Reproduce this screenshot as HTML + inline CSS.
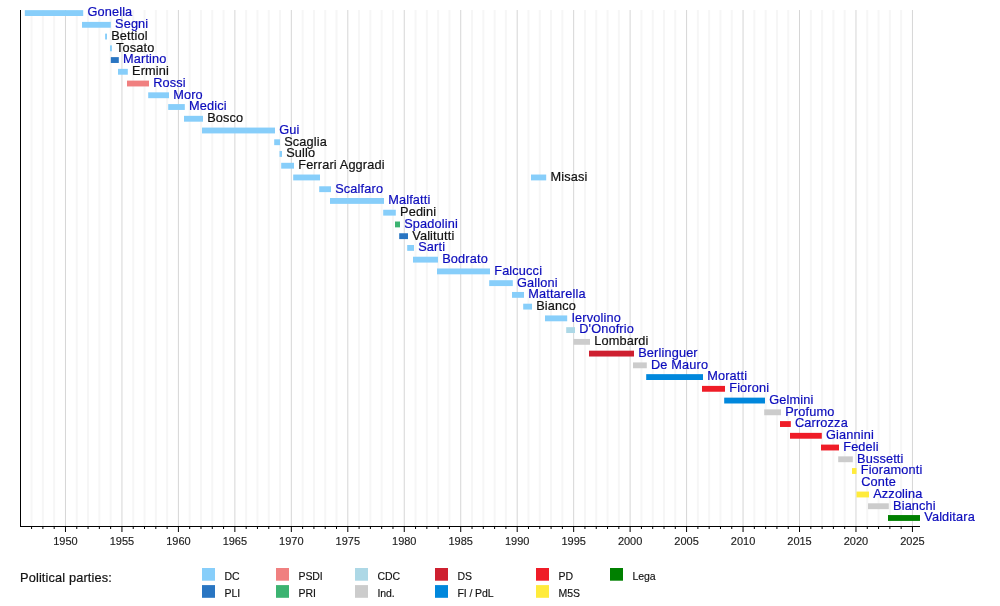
<!DOCTYPE html>
<html><head><meta charset="utf-8"><style>
html,body{margin:0;padding:0;background:#fff;}
svg{display:block;will-change:transform;filter:blur(0.25px);font-family:"Liberation Sans",sans-serif;}
.lb{font-size:12.75px;letter-spacing:0.15px;fill:#0c0cbc;stroke:#0c0cbc;stroke-width:0.2px;}
.lk{font-size:12.75px;letter-spacing:0.15px;fill:#111;stroke:#111;stroke-width:0.2px;}
.yr{font-size:11px;letter-spacing:0px;fill:#222;stroke:#222;stroke-width:0.15px;text-anchor:middle;}
.lg{font-size:10.5px;letter-spacing:-0.1px;fill:#111;stroke:#111;stroke-width:0.15px;}
</style></head><body>
<svg width="1000" height="606" viewBox="0 0 1000 606">
<rect width="1000" height="606" fill="#fff"/>
<line x1="31.59" y1="10" x2="31.59" y2="526" stroke="#f6f6f6" stroke-width="2"/>
<line x1="42.89" y1="10" x2="42.89" y2="526" stroke="#f6f6f6" stroke-width="2"/>
<line x1="54.18" y1="10" x2="54.18" y2="526" stroke="#f6f6f6" stroke-width="2"/>
<line x1="65.47" y1="10" x2="65.47" y2="526" stroke="#d6d6d6" stroke-width="1"/>
<line x1="76.77" y1="10" x2="76.77" y2="526" stroke="#f6f6f6" stroke-width="2"/>
<line x1="88.06" y1="10" x2="88.06" y2="526" stroke="#f6f6f6" stroke-width="2"/>
<line x1="99.35" y1="10" x2="99.35" y2="526" stroke="#f6f6f6" stroke-width="2"/>
<line x1="110.64" y1="10" x2="110.64" y2="526" stroke="#f6f6f6" stroke-width="2"/>
<line x1="121.94" y1="10" x2="121.94" y2="526" stroke="#d6d6d6" stroke-width="1"/>
<line x1="133.23" y1="10" x2="133.23" y2="526" stroke="#f6f6f6" stroke-width="2"/>
<line x1="144.52" y1="10" x2="144.52" y2="526" stroke="#f6f6f6" stroke-width="2"/>
<line x1="155.82" y1="10" x2="155.82" y2="526" stroke="#f6f6f6" stroke-width="2"/>
<line x1="167.11" y1="10" x2="167.11" y2="526" stroke="#f6f6f6" stroke-width="2"/>
<line x1="178.40" y1="10" x2="178.40" y2="526" stroke="#d6d6d6" stroke-width="1"/>
<line x1="189.69" y1="10" x2="189.69" y2="526" stroke="#f6f6f6" stroke-width="2"/>
<line x1="200.99" y1="10" x2="200.99" y2="526" stroke="#f6f6f6" stroke-width="2"/>
<line x1="212.28" y1="10" x2="212.28" y2="526" stroke="#f6f6f6" stroke-width="2"/>
<line x1="223.57" y1="10" x2="223.57" y2="526" stroke="#f6f6f6" stroke-width="2"/>
<line x1="234.87" y1="10" x2="234.87" y2="526" stroke="#d6d6d6" stroke-width="1"/>
<line x1="246.16" y1="10" x2="246.16" y2="526" stroke="#f6f6f6" stroke-width="2"/>
<line x1="257.45" y1="10" x2="257.45" y2="526" stroke="#f6f6f6" stroke-width="2"/>
<line x1="268.75" y1="10" x2="268.75" y2="526" stroke="#f6f6f6" stroke-width="2"/>
<line x1="280.04" y1="10" x2="280.04" y2="526" stroke="#f6f6f6" stroke-width="2"/>
<line x1="291.33" y1="10" x2="291.33" y2="526" stroke="#d6d6d6" stroke-width="1"/>
<line x1="302.62" y1="10" x2="302.62" y2="526" stroke="#f6f6f6" stroke-width="2"/>
<line x1="313.92" y1="10" x2="313.92" y2="526" stroke="#f6f6f6" stroke-width="2"/>
<line x1="325.21" y1="10" x2="325.21" y2="526" stroke="#f6f6f6" stroke-width="2"/>
<line x1="336.50" y1="10" x2="336.50" y2="526" stroke="#f6f6f6" stroke-width="2"/>
<line x1="347.80" y1="10" x2="347.80" y2="526" stroke="#d6d6d6" stroke-width="1"/>
<line x1="359.09" y1="10" x2="359.09" y2="526" stroke="#f6f6f6" stroke-width="2"/>
<line x1="370.38" y1="10" x2="370.38" y2="526" stroke="#f6f6f6" stroke-width="2"/>
<line x1="381.68" y1="10" x2="381.68" y2="526" stroke="#f6f6f6" stroke-width="2"/>
<line x1="392.97" y1="10" x2="392.97" y2="526" stroke="#f6f6f6" stroke-width="2"/>
<line x1="404.26" y1="10" x2="404.26" y2="526" stroke="#d6d6d6" stroke-width="1"/>
<line x1="415.56" y1="10" x2="415.56" y2="526" stroke="#f6f6f6" stroke-width="2"/>
<line x1="426.85" y1="10" x2="426.85" y2="526" stroke="#f6f6f6" stroke-width="2"/>
<line x1="438.14" y1="10" x2="438.14" y2="526" stroke="#f6f6f6" stroke-width="2"/>
<line x1="449.43" y1="10" x2="449.43" y2="526" stroke="#f6f6f6" stroke-width="2"/>
<line x1="460.73" y1="10" x2="460.73" y2="526" stroke="#d6d6d6" stroke-width="1"/>
<line x1="472.02" y1="10" x2="472.02" y2="526" stroke="#f6f6f6" stroke-width="2"/>
<line x1="483.31" y1="10" x2="483.31" y2="526" stroke="#f6f6f6" stroke-width="2"/>
<line x1="494.61" y1="10" x2="494.61" y2="526" stroke="#f6f6f6" stroke-width="2"/>
<line x1="505.90" y1="10" x2="505.90" y2="526" stroke="#f6f6f6" stroke-width="2"/>
<line x1="517.19" y1="10" x2="517.19" y2="526" stroke="#d6d6d6" stroke-width="1"/>
<line x1="528.48" y1="10" x2="528.48" y2="526" stroke="#f6f6f6" stroke-width="2"/>
<line x1="539.78" y1="10" x2="539.78" y2="526" stroke="#f6f6f6" stroke-width="2"/>
<line x1="551.07" y1="10" x2="551.07" y2="526" stroke="#f6f6f6" stroke-width="2"/>
<line x1="562.36" y1="10" x2="562.36" y2="526" stroke="#f6f6f6" stroke-width="2"/>
<line x1="573.66" y1="10" x2="573.66" y2="526" stroke="#d6d6d6" stroke-width="1"/>
<line x1="584.95" y1="10" x2="584.95" y2="526" stroke="#f6f6f6" stroke-width="2"/>
<line x1="596.24" y1="10" x2="596.24" y2="526" stroke="#f6f6f6" stroke-width="2"/>
<line x1="607.54" y1="10" x2="607.54" y2="526" stroke="#f6f6f6" stroke-width="2"/>
<line x1="618.83" y1="10" x2="618.83" y2="526" stroke="#f6f6f6" stroke-width="2"/>
<line x1="630.12" y1="10" x2="630.12" y2="526" stroke="#d6d6d6" stroke-width="1"/>
<line x1="641.41" y1="10" x2="641.41" y2="526" stroke="#f6f6f6" stroke-width="2"/>
<line x1="652.71" y1="10" x2="652.71" y2="526" stroke="#f6f6f6" stroke-width="2"/>
<line x1="664.00" y1="10" x2="664.00" y2="526" stroke="#f6f6f6" stroke-width="2"/>
<line x1="675.29" y1="10" x2="675.29" y2="526" stroke="#f6f6f6" stroke-width="2"/>
<line x1="686.59" y1="10" x2="686.59" y2="526" stroke="#d6d6d6" stroke-width="1"/>
<line x1="697.88" y1="10" x2="697.88" y2="526" stroke="#f6f6f6" stroke-width="2"/>
<line x1="709.17" y1="10" x2="709.17" y2="526" stroke="#f6f6f6" stroke-width="2"/>
<line x1="720.47" y1="10" x2="720.47" y2="526" stroke="#f6f6f6" stroke-width="2"/>
<line x1="731.76" y1="10" x2="731.76" y2="526" stroke="#f6f6f6" stroke-width="2"/>
<line x1="743.05" y1="10" x2="743.05" y2="526" stroke="#d6d6d6" stroke-width="1"/>
<line x1="754.34" y1="10" x2="754.34" y2="526" stroke="#f6f6f6" stroke-width="2"/>
<line x1="765.64" y1="10" x2="765.64" y2="526" stroke="#f6f6f6" stroke-width="2"/>
<line x1="776.93" y1="10" x2="776.93" y2="526" stroke="#f6f6f6" stroke-width="2"/>
<line x1="788.22" y1="10" x2="788.22" y2="526" stroke="#f6f6f6" stroke-width="2"/>
<line x1="799.52" y1="10" x2="799.52" y2="526" stroke="#d6d6d6" stroke-width="1"/>
<line x1="810.81" y1="10" x2="810.81" y2="526" stroke="#f6f6f6" stroke-width="2"/>
<line x1="822.10" y1="10" x2="822.10" y2="526" stroke="#f6f6f6" stroke-width="2"/>
<line x1="833.40" y1="10" x2="833.40" y2="526" stroke="#f6f6f6" stroke-width="2"/>
<line x1="844.69" y1="10" x2="844.69" y2="526" stroke="#f6f6f6" stroke-width="2"/>
<line x1="855.98" y1="10" x2="855.98" y2="526" stroke="#d6d6d6" stroke-width="1"/>
<line x1="867.27" y1="10" x2="867.27" y2="526" stroke="#f6f6f6" stroke-width="2"/>
<line x1="878.57" y1="10" x2="878.57" y2="526" stroke="#f6f6f6" stroke-width="2"/>
<line x1="889.86" y1="10" x2="889.86" y2="526" stroke="#f6f6f6" stroke-width="2"/>
<line x1="901.15" y1="10" x2="901.15" y2="526" stroke="#f6f6f6" stroke-width="2"/>
<line x1="912.45" y1="10" x2="912.45" y2="526" stroke="#d6d6d6" stroke-width="1"/>
<rect x="24.80" y="10.15" width="58.40" height="5.85" fill="#87CEFA"/>
<text class="lb" transform="translate(87.40,16.45) scale(1,1.06)">Gonella</text>
<rect x="82.00" y="21.89" width="28.80" height="5.85" fill="#87CEFA"/>
<text class="lb" transform="translate(115.00,28.19) scale(1,1.06)">Segni</text>
<rect x="105.10" y="33.63" width="1.90" height="5.85" fill="#87CEFA"/>
<text class="lk" transform="translate(111.20,39.93) scale(1,1.06)">Bettiol</text>
<rect x="110.00" y="45.38" width="1.90" height="5.85" fill="#87CEFA"/>
<text class="lk" transform="translate(116.10,51.68) scale(1,1.06)">Tosato</text>
<rect x="110.80" y="57.12" width="8.00" height="5.85" fill="#2975C2"/>
<text class="lb" transform="translate(123.00,63.42) scale(1,1.06)">Martino</text>
<rect x="118.00" y="68.86" width="9.80" height="5.85" fill="#87CEFA"/>
<text class="lk" transform="translate(132.00,75.16) scale(1,1.06)">Ermini</text>
<rect x="127.00" y="80.60" width="22.00" height="5.85" fill="#F08080"/>
<text class="lb" transform="translate(153.20,86.90) scale(1,1.06)">Rossi</text>
<rect x="148.20" y="92.34" width="20.80" height="5.85" fill="#87CEFA"/>
<text class="lb" transform="translate(173.20,98.64) scale(1,1.06)">Moro</text>
<rect x="168.20" y="104.09" width="16.60" height="5.85" fill="#87CEFA"/>
<text class="lb" transform="translate(189.00,110.39) scale(1,1.06)">Medici</text>
<rect x="184.00" y="115.83" width="19.00" height="5.85" fill="#87CEFA"/>
<text class="lk" transform="translate(207.20,122.13) scale(1,1.06)">Bosco</text>
<rect x="202.00" y="127.57" width="73.00" height="5.85" fill="#87CEFA"/>
<text class="lb" transform="translate(279.20,133.87) scale(1,1.06)">Gui</text>
<rect x="274.20" y="139.31" width="5.80" height="5.85" fill="#87CEFA"/>
<text class="lk" transform="translate(284.20,145.61) scale(1,1.06)">Scaglia</text>
<rect x="279.50" y="151.05" width="2.50" height="5.85" fill="#87CEFA"/>
<text class="lk" transform="translate(286.20,157.35) scale(1,1.06)">Sullo</text>
<rect x="281.20" y="162.80" width="12.80" height="5.85" fill="#87CEFA"/>
<text class="lk" transform="translate(298.20,169.10) scale(1,1.06)">Ferrari Aggradi</text>
<rect x="293.20" y="174.54" width="26.80" height="5.85" fill="#87CEFA"/>
<rect x="531.00" y="174.54" width="15.20" height="5.85" fill="#87CEFA"/>
<text class="lk" transform="translate(550.40,180.84) scale(1,1.06)">Misasi</text>
<rect x="319.20" y="186.28" width="11.80" height="5.85" fill="#87CEFA"/>
<text class="lb" transform="translate(335.20,192.58) scale(1,1.06)">Scalfaro</text>
<rect x="330.00" y="198.02" width="54.00" height="5.85" fill="#87CEFA"/>
<text class="lb" transform="translate(388.20,204.32) scale(1,1.06)">Malfatti</text>
<rect x="383.20" y="209.76" width="12.60" height="5.85" fill="#87CEFA"/>
<text class="lk" transform="translate(400.00,216.06) scale(1,1.06)">Pedini</text>
<rect x="395.00" y="221.51" width="5.00" height="5.85" fill="#3CB371"/>
<text class="lb" transform="translate(404.20,227.81) scale(1,1.06)">Spadolini</text>
<rect x="399.20" y="233.25" width="8.80" height="5.85" fill="#2975C2"/>
<text class="lk" transform="translate(412.20,239.55) scale(1,1.06)">Valitutti</text>
<rect x="407.20" y="244.99" width="6.80" height="5.85" fill="#87CEFA"/>
<text class="lb" transform="translate(418.20,251.29) scale(1,1.06)">Sarti</text>
<rect x="413.00" y="256.73" width="25.00" height="5.85" fill="#87CEFA"/>
<text class="lb" transform="translate(442.20,263.03) scale(1,1.06)">Bodrato</text>
<rect x="437.00" y="268.47" width="53.00" height="5.85" fill="#87CEFA"/>
<text class="lb" transform="translate(494.20,274.77) scale(1,1.06)">Falcucci</text>
<rect x="489.20" y="280.22" width="23.60" height="5.85" fill="#87CEFA"/>
<text class="lb" transform="translate(517.00,286.52) scale(1,1.06)">Galloni</text>
<rect x="512.00" y="291.96" width="12.00" height="5.85" fill="#87CEFA"/>
<text class="lb" transform="translate(528.20,298.26) scale(1,1.06)">Mattarella</text>
<rect x="523.20" y="303.70" width="8.80" height="5.85" fill="#87CEFA"/>
<text class="lk" transform="translate(536.20,310.00) scale(1,1.06)">Bianco</text>
<rect x="545.00" y="315.44" width="22.20" height="5.85" fill="#87CEFA"/>
<text class="lb" transform="translate(571.40,321.74) scale(1,1.06)">Iervolino</text>
<rect x="566.20" y="327.18" width="8.80" height="5.85" fill="#ADD8E6"/>
<text class="lb" transform="translate(579.20,333.48) scale(1,1.06)">D&#39;Onofrio</text>
<rect x="573.50" y="338.93" width="16.50" height="5.85" fill="#CCCCCC"/>
<text class="lk" transform="translate(594.20,345.23) scale(1,1.06)">Lombardi</text>
<rect x="589.00" y="350.67" width="45.00" height="5.85" fill="#CE2030"/>
<text class="lb" transform="translate(638.20,356.97) scale(1,1.06)">Berlinguer</text>
<rect x="633.00" y="362.41" width="13.80" height="5.85" fill="#CCCCCC"/>
<text class="lb" transform="translate(651.00,368.71) scale(1,1.06)">De Mauro</text>
<rect x="646.20" y="374.15" width="56.80" height="5.85" fill="#0087DC"/>
<text class="lb" transform="translate(707.20,380.45) scale(1,1.06)">Moratti</text>
<rect x="702.00" y="385.89" width="23.00" height="5.85" fill="#EF1C27"/>
<text class="lb" transform="translate(729.20,392.19) scale(1,1.06)">Fioroni</text>
<rect x="724.20" y="397.64" width="40.80" height="5.85" fill="#0087DC"/>
<text class="lb" transform="translate(769.20,403.94) scale(1,1.06)">Gelmini</text>
<rect x="764.20" y="409.38" width="16.80" height="5.85" fill="#CCCCCC"/>
<text class="lb" transform="translate(785.20,415.68) scale(1,1.06)">Profumo</text>
<rect x="780.00" y="421.12" width="10.80" height="5.85" fill="#EF1C27"/>
<text class="lb" transform="translate(795.00,427.42) scale(1,1.06)">Carrozza</text>
<rect x="790.00" y="432.86" width="31.80" height="5.85" fill="#EF1C27"/>
<text class="lb" transform="translate(826.00,439.16) scale(1,1.06)">Giannini</text>
<rect x="821.00" y="444.60" width="18.00" height="5.85" fill="#EF1C27"/>
<text class="lb" transform="translate(843.20,450.90) scale(1,1.06)">Fedeli</text>
<rect x="838.20" y="456.35" width="14.60" height="5.85" fill="#CCCCCC"/>
<text class="lb" transform="translate(857.00,462.65) scale(1,1.06)">Bussetti</text>
<rect x="852.00" y="468.09" width="4.50" height="5.85" fill="#FFEB3B"/>
<text class="lb" transform="translate(860.70,474.39) scale(1,1.06)">Fioramonti</text>
<text class="lb" transform="translate(861.20,486.13) scale(1,1.06)">Conte</text>
<rect x="856.50" y="491.57" width="12.50" height="5.85" fill="#FFEB3B"/>
<text class="lb" transform="translate(873.20,497.87) scale(1,1.06)">Azzolina</text>
<rect x="868.00" y="503.31" width="20.80" height="5.85" fill="#CCCCCC"/>
<text class="lb" transform="translate(893.00,509.61) scale(1,1.06)">Bianchi</text>
<rect x="888.00" y="515.06" width="32.00" height="5.85" fill="#008000"/>
<text class="lb" transform="translate(924.20,521.36) scale(1,1.06)">Valditara</text>
<line x1="20.5" y1="10" x2="20.5" y2="527" stroke="#000" stroke-width="1"/>
<line x1="20" y1="526.5" x2="920" y2="526.5" stroke="#000" stroke-width="1"/>
<line x1="31.59" y1="526" x2="31.59" y2="529" stroke="#000" stroke-width="1"/>
<line x1="42.89" y1="526" x2="42.89" y2="529" stroke="#000" stroke-width="1"/>
<line x1="54.18" y1="526" x2="54.18" y2="529" stroke="#000" stroke-width="1"/>
<line x1="65.47" y1="526" x2="65.47" y2="532" stroke="#000" stroke-width="1"/>
<text class="yr" x="65.47" y="545">1950</text>
<line x1="76.77" y1="526" x2="76.77" y2="529" stroke="#000" stroke-width="1"/>
<line x1="88.06" y1="526" x2="88.06" y2="529" stroke="#000" stroke-width="1"/>
<line x1="99.35" y1="526" x2="99.35" y2="529" stroke="#000" stroke-width="1"/>
<line x1="110.64" y1="526" x2="110.64" y2="529" stroke="#000" stroke-width="1"/>
<line x1="121.94" y1="526" x2="121.94" y2="532" stroke="#000" stroke-width="1"/>
<text class="yr" x="121.94" y="545">1955</text>
<line x1="133.23" y1="526" x2="133.23" y2="529" stroke="#000" stroke-width="1"/>
<line x1="144.52" y1="526" x2="144.52" y2="529" stroke="#000" stroke-width="1"/>
<line x1="155.82" y1="526" x2="155.82" y2="529" stroke="#000" stroke-width="1"/>
<line x1="167.11" y1="526" x2="167.11" y2="529" stroke="#000" stroke-width="1"/>
<line x1="178.40" y1="526" x2="178.40" y2="532" stroke="#000" stroke-width="1"/>
<text class="yr" x="178.40" y="545">1960</text>
<line x1="189.69" y1="526" x2="189.69" y2="529" stroke="#000" stroke-width="1"/>
<line x1="200.99" y1="526" x2="200.99" y2="529" stroke="#000" stroke-width="1"/>
<line x1="212.28" y1="526" x2="212.28" y2="529" stroke="#000" stroke-width="1"/>
<line x1="223.57" y1="526" x2="223.57" y2="529" stroke="#000" stroke-width="1"/>
<line x1="234.87" y1="526" x2="234.87" y2="532" stroke="#000" stroke-width="1"/>
<text class="yr" x="234.87" y="545">1965</text>
<line x1="246.16" y1="526" x2="246.16" y2="529" stroke="#000" stroke-width="1"/>
<line x1="257.45" y1="526" x2="257.45" y2="529" stroke="#000" stroke-width="1"/>
<line x1="268.75" y1="526" x2="268.75" y2="529" stroke="#000" stroke-width="1"/>
<line x1="280.04" y1="526" x2="280.04" y2="529" stroke="#000" stroke-width="1"/>
<line x1="291.33" y1="526" x2="291.33" y2="532" stroke="#000" stroke-width="1"/>
<text class="yr" x="291.33" y="545">1970</text>
<line x1="302.62" y1="526" x2="302.62" y2="529" stroke="#000" stroke-width="1"/>
<line x1="313.92" y1="526" x2="313.92" y2="529" stroke="#000" stroke-width="1"/>
<line x1="325.21" y1="526" x2="325.21" y2="529" stroke="#000" stroke-width="1"/>
<line x1="336.50" y1="526" x2="336.50" y2="529" stroke="#000" stroke-width="1"/>
<line x1="347.80" y1="526" x2="347.80" y2="532" stroke="#000" stroke-width="1"/>
<text class="yr" x="347.80" y="545">1975</text>
<line x1="359.09" y1="526" x2="359.09" y2="529" stroke="#000" stroke-width="1"/>
<line x1="370.38" y1="526" x2="370.38" y2="529" stroke="#000" stroke-width="1"/>
<line x1="381.68" y1="526" x2="381.68" y2="529" stroke="#000" stroke-width="1"/>
<line x1="392.97" y1="526" x2="392.97" y2="529" stroke="#000" stroke-width="1"/>
<line x1="404.26" y1="526" x2="404.26" y2="532" stroke="#000" stroke-width="1"/>
<text class="yr" x="404.26" y="545">1980</text>
<line x1="415.56" y1="526" x2="415.56" y2="529" stroke="#000" stroke-width="1"/>
<line x1="426.85" y1="526" x2="426.85" y2="529" stroke="#000" stroke-width="1"/>
<line x1="438.14" y1="526" x2="438.14" y2="529" stroke="#000" stroke-width="1"/>
<line x1="449.43" y1="526" x2="449.43" y2="529" stroke="#000" stroke-width="1"/>
<line x1="460.73" y1="526" x2="460.73" y2="532" stroke="#000" stroke-width="1"/>
<text class="yr" x="460.73" y="545">1985</text>
<line x1="472.02" y1="526" x2="472.02" y2="529" stroke="#000" stroke-width="1"/>
<line x1="483.31" y1="526" x2="483.31" y2="529" stroke="#000" stroke-width="1"/>
<line x1="494.61" y1="526" x2="494.61" y2="529" stroke="#000" stroke-width="1"/>
<line x1="505.90" y1="526" x2="505.90" y2="529" stroke="#000" stroke-width="1"/>
<line x1="517.19" y1="526" x2="517.19" y2="532" stroke="#000" stroke-width="1"/>
<text class="yr" x="517.19" y="545">1990</text>
<line x1="528.48" y1="526" x2="528.48" y2="529" stroke="#000" stroke-width="1"/>
<line x1="539.78" y1="526" x2="539.78" y2="529" stroke="#000" stroke-width="1"/>
<line x1="551.07" y1="526" x2="551.07" y2="529" stroke="#000" stroke-width="1"/>
<line x1="562.36" y1="526" x2="562.36" y2="529" stroke="#000" stroke-width="1"/>
<line x1="573.66" y1="526" x2="573.66" y2="532" stroke="#000" stroke-width="1"/>
<text class="yr" x="573.66" y="545">1995</text>
<line x1="584.95" y1="526" x2="584.95" y2="529" stroke="#000" stroke-width="1"/>
<line x1="596.24" y1="526" x2="596.24" y2="529" stroke="#000" stroke-width="1"/>
<line x1="607.54" y1="526" x2="607.54" y2="529" stroke="#000" stroke-width="1"/>
<line x1="618.83" y1="526" x2="618.83" y2="529" stroke="#000" stroke-width="1"/>
<line x1="630.12" y1="526" x2="630.12" y2="532" stroke="#000" stroke-width="1"/>
<text class="yr" x="630.12" y="545">2000</text>
<line x1="641.41" y1="526" x2="641.41" y2="529" stroke="#000" stroke-width="1"/>
<line x1="652.71" y1="526" x2="652.71" y2="529" stroke="#000" stroke-width="1"/>
<line x1="664.00" y1="526" x2="664.00" y2="529" stroke="#000" stroke-width="1"/>
<line x1="675.29" y1="526" x2="675.29" y2="529" stroke="#000" stroke-width="1"/>
<line x1="686.59" y1="526" x2="686.59" y2="532" stroke="#000" stroke-width="1"/>
<text class="yr" x="686.59" y="545">2005</text>
<line x1="697.88" y1="526" x2="697.88" y2="529" stroke="#000" stroke-width="1"/>
<line x1="709.17" y1="526" x2="709.17" y2="529" stroke="#000" stroke-width="1"/>
<line x1="720.47" y1="526" x2="720.47" y2="529" stroke="#000" stroke-width="1"/>
<line x1="731.76" y1="526" x2="731.76" y2="529" stroke="#000" stroke-width="1"/>
<line x1="743.05" y1="526" x2="743.05" y2="532" stroke="#000" stroke-width="1"/>
<text class="yr" x="743.05" y="545">2010</text>
<line x1="754.34" y1="526" x2="754.34" y2="529" stroke="#000" stroke-width="1"/>
<line x1="765.64" y1="526" x2="765.64" y2="529" stroke="#000" stroke-width="1"/>
<line x1="776.93" y1="526" x2="776.93" y2="529" stroke="#000" stroke-width="1"/>
<line x1="788.22" y1="526" x2="788.22" y2="529" stroke="#000" stroke-width="1"/>
<line x1="799.52" y1="526" x2="799.52" y2="532" stroke="#000" stroke-width="1"/>
<text class="yr" x="799.52" y="545">2015</text>
<line x1="810.81" y1="526" x2="810.81" y2="529" stroke="#000" stroke-width="1"/>
<line x1="822.10" y1="526" x2="822.10" y2="529" stroke="#000" stroke-width="1"/>
<line x1="833.40" y1="526" x2="833.40" y2="529" stroke="#000" stroke-width="1"/>
<line x1="844.69" y1="526" x2="844.69" y2="529" stroke="#000" stroke-width="1"/>
<line x1="855.98" y1="526" x2="855.98" y2="532" stroke="#000" stroke-width="1"/>
<text class="yr" x="855.98" y="545">2020</text>
<line x1="867.27" y1="526" x2="867.27" y2="529" stroke="#000" stroke-width="1"/>
<line x1="878.57" y1="526" x2="878.57" y2="529" stroke="#000" stroke-width="1"/>
<line x1="889.86" y1="526" x2="889.86" y2="529" stroke="#000" stroke-width="1"/>
<line x1="901.15" y1="526" x2="901.15" y2="529" stroke="#000" stroke-width="1"/>
<line x1="912.45" y1="526" x2="912.45" y2="532" stroke="#000" stroke-width="1"/>
<text class="yr" x="912.45" y="545">2025</text>
<text class="lk" x="20" y="581.7">Political parties:</text>
<rect x="202" y="568.0" width="13" height="12.7" fill="#87CEFA"/>
<text class="lg" x="224.5" y="579.8">DC</text>
<rect x="202" y="585.1" width="13" height="12.7" fill="#2975C2"/>
<text class="lg" x="224.5" y="596.9">PLI</text>
<rect x="276" y="568.0" width="13" height="12.7" fill="#F08080"/>
<text class="lg" x="298.5" y="579.8">PSDI</text>
<rect x="276" y="585.1" width="13" height="12.7" fill="#3CB371"/>
<text class="lg" x="298.5" y="596.9">PRI</text>
<rect x="355" y="568.0" width="13" height="12.7" fill="#ADD8E6"/>
<text class="lg" x="377.5" y="579.8">CDC</text>
<rect x="355" y="585.1" width="13" height="12.7" fill="#CCCCCC"/>
<text class="lg" x="377.5" y="596.9">Ind.</text>
<rect x="435" y="568.0" width="13" height="12.7" fill="#CE2030"/>
<text class="lg" x="457.5" y="579.8">DS</text>
<rect x="435" y="585.1" width="13" height="12.7" fill="#0087DC"/>
<text class="lg" x="457.5" y="596.9">FI / PdL</text>
<rect x="536" y="568.0" width="13" height="12.7" fill="#EF1C27"/>
<text class="lg" x="558.5" y="579.8">PD</text>
<rect x="536" y="585.1" width="13" height="12.7" fill="#FFEB3B"/>
<text class="lg" x="558.5" y="596.9">M5S</text>
<rect x="610" y="568.0" width="13" height="12.7" fill="#008000"/>
<text class="lg" x="632.5" y="579.8">Lega</text>
</svg>
</body></html>
